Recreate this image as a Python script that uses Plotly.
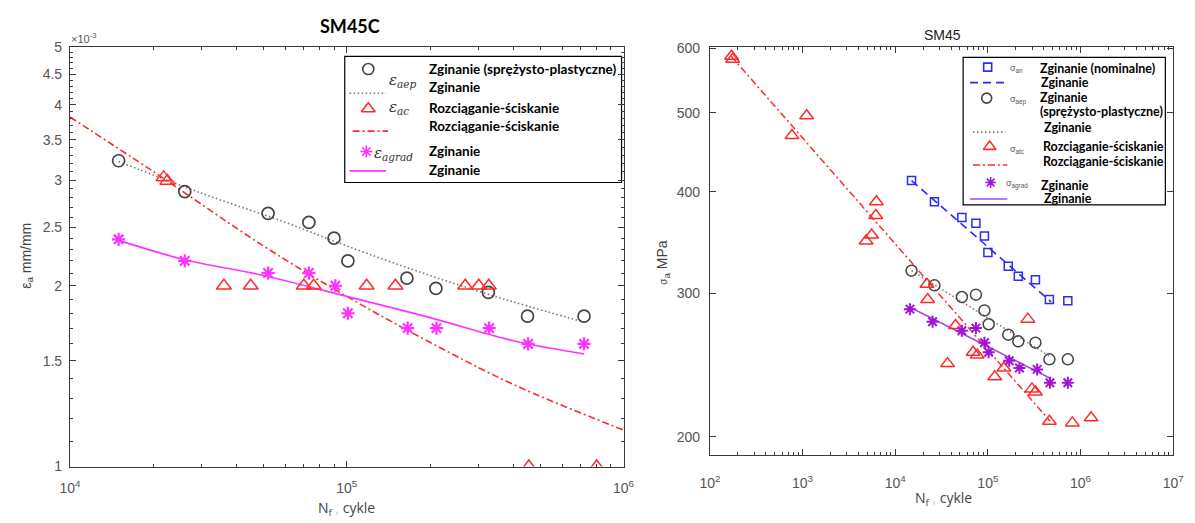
import numpy as np
import plotly.graph_objects as go

W, H = 1195, 523

# ---------------- SM45C : strain amplitude (x 1e-3 mm/mm) vs cycles ----------------
n_aep = [15000, 26000, 52000, 73000, 90000, 101000, 165000, 210000, 325000, 450000, 720000]
e_aep = [3.23, 2.87, 2.64, 2.55, 2.40, 2.20, 2.06, 1.98, 1.95, 1.78, 1.78]

n_ac = [21800, 22500, 36000, 45000, 70000, 76000, 118000, 150000, 268000, 300000, 326000, 455000, 800000]
e_ac = [3.03, 2.99, 2.0, 2.0, 2.0, 2.0, 2.0, 2.0, 2.0, 2.0, 2.0, 1.0, 1.0]

n_agrad = [15000, 26000, 52000, 73000, 91000, 101000, 166000, 211000, 327000, 452000, 720000]
e_agrad = [2.39, 2.20, 2.10, 2.10, 2.0, 1.80, 1.70, 1.70, 1.70, 1.60, 1.60]

fit_aep_n = [15000, 30000, 60000, 100000, 200000, 400000, 720000]
fit_aep_e = [3.22, 2.85, 2.55, 2.33, 2.08, 1.88, 1.74]
fit_ac_n = [10000, 20000, 50000, 100000, 200000, 400000, 1000000]
fit_ac_e = [3.82, 3.10, 2.33, 1.92, 1.61, 1.37, 1.15]
fit_agrad_n = [15000, 26000, 50000, 100000, 200000, 400000, 720000]
fit_agrad_e = [2.38, 2.21, 2.08, 1.92, 1.77, 1.62, 1.54]

left_yticks = [1, 1.5, 2, 2.5, 3, 3.5, 4, 4.5, 5]
left_xticks = [1e4, 1e5, 1e6]

# ---------------- SM45 : stress amplitude (MPa) vs cycles ----------------
n_an = [15000, 26500, 52400, 74300, 91800, 100000, 166000, 213000, 326000, 461000, 729000]
s_an = [413, 389, 372, 366, 353, 337, 324, 315, 312, 295, 294]

n_aep_r = [15000, 26500, 52400, 74300, 91800, 102000, 166000, 213000, 326000, 461000, 729000]
s_aep_r = [320, 307, 297, 299, 286, 275, 267, 262, 261, 249, 249]

n_atc = [171, 176, 769, 1107, 4850, 5560, 6170, 6260, 22000, 22400, 36700, 44700, 69300,
         76800, 118600, 149000, 270000, 299000, 326000, 461000, 815000, 1300000]
s_atc = [587, 582, 469, 496, 348, 354, 374, 389, 308, 295, 246, 274, 254, 252, 237, 243,
         279, 229, 227, 209, 208, 211]

n_agrad_r = [14400, 25300, 52400, 74300, 91800, 102000, 170000, 219000, 340000, 468000, 729000]
s_agrad_r = [287, 277, 270, 272, 261, 254, 248, 243, 242, 233, 233]

fit_an_n = [15000, 480000]
fit_an_s = [413, 293]
fit_aep_r_n = [15000, 470000]
fit_aep_r_s = [320, 251]
fit_atc_n = [170, 470000]
fit_atc_s = [587, 209]
fit_agrad_r_n = [15000, 470000]
fit_agrad_r_s = [288, 236]

right_yticks = [200, 300, 400, 500, 600]
right_xticks = [1e2, 1e3, 1e4, 1e5, 1e6, 1e7]

# ---------------- styles ----------------
GRAY_M = "#444444"
GRAY_L = "#777777"
RED = "#ff2a2a"
MAG = "#ff33ff"
BLUE = "#2a2aff"
PURP = "#a313d6"
PURP_L = "#a24ee0"
DOT = "1.5px,2.5px"
DASHDOT = "7px,3px,2px,3px"
DASH = "8px,5px"
AX = "#3a3a3a"
TICKC = "#555555"
TICKFONT = dict(family="Liberation Sans, Arial, sans-serif", size=14, color=TICKC)
LEGFONT = "Lato, 'Open Sans', sans-serif"


def px(x):
    return x / W


def py(y):
    return 1 - y / H


fig = go.Figure()

# ---- left panel traces ----
fig.add_trace(go.Scatter(x=fit_aep_n, y=fit_aep_e, mode="lines", line_shape="spline",
                         line=dict(color=GRAY_L, width=1.6, dash=DOT), xaxis="x", yaxis="y"))
fig.add_trace(go.Scatter(x=fit_ac_n, y=fit_ac_e, mode="lines", line_shape="spline",
                         line=dict(color=RED, width=1.6, dash=DASHDOT), xaxis="x", yaxis="y"))
fig.add_trace(go.Scatter(x=fit_agrad_n, y=fit_agrad_e, mode="lines", line_shape="spline",
                         line=dict(color=MAG, width=1.6), xaxis="x", yaxis="y"))
fig.add_trace(go.Scatter(x=n_aep, y=e_aep, mode="markers",
                         marker=dict(symbol="circle-open", size=12, color=GRAY_M, line=dict(width=1.7)),
                         xaxis="x", yaxis="y"))
fig.add_trace(go.Scatter(x=n_ac, y=e_ac, mode="markers",
                         marker=dict(symbol="triangle-up-open", size=13, color=RED, line=dict(width=1.5)),
                         xaxis="x", yaxis="y"))
fig.add_trace(go.Scatter(x=n_agrad, y=e_agrad, mode="markers",
                         marker=dict(symbol="asterisk-open", size=11, color=MAG, line=dict(width=2.2)),
                         xaxis="x", yaxis="y"))

# ---- right panel traces ----
fig.add_trace(go.Scatter(x=fit_an_n, y=fit_an_s, mode="lines",
                         line=dict(color=BLUE, width=1.6, dash=DASH), xaxis="x2", yaxis="y2"))
fig.add_trace(go.Scatter(x=fit_aep_r_n, y=fit_aep_r_s, mode="lines",
                         line=dict(color=GRAY_L, width=1.5, dash=DOT), xaxis="x2", yaxis="y2"))
fig.add_trace(go.Scatter(x=fit_atc_n, y=fit_atc_s, mode="lines",
                         line=dict(color=RED, width=1.5, dash=DASHDOT), xaxis="x2", yaxis="y2"))
fig.add_trace(go.Scatter(x=fit_agrad_r_n, y=fit_agrad_r_s, mode="lines",
                         line=dict(color=PURP_L, width=1.6), xaxis="x2", yaxis="y2"))
fig.add_trace(go.Scatter(x=n_an, y=s_an, mode="markers",
                         marker=dict(symbol="square-open", size=8, color=BLUE, line=dict(width=1.5)),
                         xaxis="x2", yaxis="y2"))
fig.add_trace(go.Scatter(x=n_aep_r, y=s_aep_r, mode="markers",
                         marker=dict(symbol="circle-open", size=11, color=GRAY_M, line=dict(width=1.5)),
                         xaxis="x2", yaxis="y2"))
fig.add_trace(go.Scatter(x=n_atc, y=s_atc, mode="markers",
                         marker=dict(symbol="triangle-up-open", size=12, color=RED, line=dict(width=1.5)),
                         xaxis="x2", yaxis="y2"))
fig.add_trace(go.Scatter(x=n_agrad_r, y=s_agrad_r, mode="markers",
                         marker=dict(symbol="asterisk-open", size=10, color=PURP, line=dict(width=2)),
                         xaxis="x2", yaxis="y2"))

# ---- legend glyph markers on a full-page helper axis (pixel units) ----
leg_marks = [
    (364, 63, "circle-open", 11, GRAY_M),
    (364, 104, "triangle-up-open", 12, RED),
    (362, 148, "asterisk-open", 10, MAG),
    (995, 61, "square-open", 8, BLUE),
    (994, 93, "circle-open", 10, GRAY_M),
    (997, 143, "triangle-up-open", 11, RED),
    (998, 180, "asterisk-open", 9, PURP),
]
for gx, gy, sym, sz, col in leg_marks:
    fig.add_trace(go.Scatter(x=[gx], y=[gy], mode="markers", xaxis="x3", yaxis="y3",
                             marker=dict(symbol=sym, size=sz, color=col, line=dict(width=1.6)),
                             cliponaxis=False))

minor_x_left = [k * 10 ** e for e in (4, 5) for k in range(2, 10)]
minor_y_left = [round(v, 1) for v in np.arange(1.1, 5.0, 0.1) if abs(v * 2 - round(v * 2)) > 1e-6]
minor_x_right = [k * 10 ** e for e in range(2, 7) for k in range(2, 10)]

common_axis = dict(showgrid=False, zeroline=False, showline=True, linecolor=AX, linewidth=1,
                   mirror="ticks", ticks="inside", tickcolor=AX, ticklen=6, tickfont=TICKFONT)

L_X0, L_X1, L_Y0, L_Y1 = 60, 624, 40, 473
R_X0, R_X1, R_Y0, R_Y1 = 712, 1184, 40, 461

fig.update_layout(
    width=W, height=H, margin=dict(l=0, r=0, t=0, b=0),
    paper_bgcolor="white", plot_bgcolor="rgba(0,0,0,0)", showlegend=False,
    xaxis=dict(common_axis, type="log", range=[4, 6], domain=[px(L_X0), px(L_X1)],
               tickvals=left_xticks, ticktext=["10<sup>4</sup>", "10<sup>5</sup>", "10<sup>6</sup>"],
               ticklabelstandoff=9,
               minor=dict(ticks="inside", ticklen=3, tickcolor=AX, tickvals=minor_x_left), anchor="y"),
    yaxis=dict(common_axis, type="log", range=[0, np.log10(5)], domain=[py(L_Y1), py(L_Y0)],
               tickvals=left_yticks, ticktext=[f"{v:g}" for v in left_yticks], ticklabelstandoff=4,
               minor=dict(ticks="inside", ticklen=3, tickcolor=AX, tickvals=minor_y_left), anchor="x"),
    xaxis2=dict(common_axis, type="log", range=[2, 7], domain=[px(R_X0), px(R_X1)],
                tickvals=right_xticks, ticktext=[f"10<sup>{k}</sup>" for k in range(2, 8)],
                ticklabelstandoff=15,
                minor=dict(ticks="inside", ticklen=3, tickcolor=AX, tickvals=minor_x_right), anchor="y2"),
    yaxis2=dict(common_axis, type="log", range=[np.log10(190), np.log10(603)],
                domain=[py(R_Y1), py(R_Y0)], tickvals=right_yticks, ticklabelstandoff=6,
                ticktext=[str(v) for v in right_yticks], anchor="x2"),
    xaxis3=dict(range=[0, W], domain=[0, 1], visible=False, fixedrange=True, anchor="y3"),
    yaxis3=dict(range=[H, 0], domain=[0, 1], visible=False, fixedrange=True, anchor="x3"),
)

shapes = []
annotations = []


def text(x, y, s, size=12, color="black", family=LEGFONT, xanchor="left", angle=0, bold=False):
    annotations.append(dict(x=px(x), y=py(y), xref="paper", yref="paper", text=f"<b>{s}</b>" if bold else s,
                            showarrow=False, xanchor=xanchor, yanchor="middle", textangle=angle,
                            borderpad=0, font=dict(family=family, size=size, color=color)))


def hline(x0, x1, y, color, dash, width=1.6):
    shapes.append(dict(type="line", xref="paper", yref="paper", x0=px(x0), x1=px(x1), y0=py(y), y1=py(y),
                       line=dict(color=color, width=width, dash=dash), layer="above"))


# ---- titles and axis labels ----
text(345, 19, "SM45C", size=18, family="Lato, 'Open Sans', sans-serif", xanchor="center", bold=True)
text(949, 28, "SM45", size=14, family="Liberation Sans, Arial, sans-serif", color="#222", xanchor="center")
text(60, 31, "×10<sup>-3</sup>", size=11, family="Liberation Sans, Arial, sans-serif", color=TICKC)
text(16, 256, "ε<sub>a</sub> mm/mm", size=14, family="Liberation Sans, Arial, sans-serif",
     color="#444", xanchor="center", angle=-90)
text(664, 262, "<span style='font-size:10px'>σ</span><sub>a</sub> MPa", size=14,
     family="Liberation Sans, Arial, sans-serif", color="#444", xanchor="center", angle=-90)
text(342, 516, "N<sub>f</sub> <span style='color:#cccccc'>,</span> cykle", size=14,
     family="'Open Sans', sans-serif", color="#444", xanchor="center")
text(950, 506, "N<sub>f</sub> <span style='color:#cccccc'>,</span> cykle", size=14,
     family="'Open Sans', sans-serif", color="#444", xanchor="center")

# ---- left legend ----
shapes.append(dict(type="rect", xref="paper", yref="paper", x0=px(340), x1=px(622), y0=py(180), y1=py(50),
                   line=dict(color="black", width=1.2), fillcolor="white", layer="below"))
hline(345, 382, 88, GRAY_L, DOT)
hline(348, 384, 127, RED, DASHDOT)
hline(345, 382, 168, MAG, None)
MATHF = "'DejaVu Serif', serif"
text(384, 75, "<i>ε<sub>aep</sub></i>", size=15, family=MATHF, color="#333")
text(384, 103, "<i>ε<sub>ac</sub></i>", size=15, family=MATHF, color="#333")
text(369, 150, "<i>ε<sub>agrad</sub></i>", size=15, family=MATHF, color="#333")
LS = 13.5
text(425, 63, "Zginanie (sprężysto-plastyczne)", size=LS, bold=True)
text(425, 82, "Zginanie", size=LS, bold=True)
text(425, 103, "Rozciąganie-ściskanie", size=LS, bold=True)
text(425, 122, "Rozciąganie-ściskanie", size=LS, bold=True)
text(425, 148, "Zginanie", size=LS, bold=True)
text(425, 167, "Zginanie", size=LS, bold=True)

# ---- right legend ----
shapes.append(dict(type="rect", xref="paper", yref="paper", x0=px(970), x1=px(1176), y0=py(203), y1=py(51),
                   line=dict(color="black", width=1.2), fillcolor="white", layer="below"))
hline(977, 1012, 77, BLUE, DASH)
hline(980, 1013, 128, GRAY_L, DOT)
hline(980, 1015, 162, RED, DASHDOT)
hline(977, 1015, 197, PURP_L, None)
SMALL = "Liberation Sans, Arial, sans-serif"
text(1017, 62, "σ<sub>an</sub>", size=9, family=SMALL, color="#555")
text(1017, 95, "σ<sub>aep</sub>", size=9, family=SMALL, color="#555")
text(1017, 146, "σ<sub>atc</sub>", size=9, family=SMALL, color="#555")
text(1013, 182, "σ<sub>agrad</sub>", size=9, family=SMALL, color="#555")
RS = 12.5
text(1047, 62, "Zginanie (nominalne)", size=RS, bold=True)
text(1048, 77, "Zginanie", size=RS, bold=True)
text(1047, 92, "Zginanie", size=RS, bold=True)
text(1047, 107, "(sprężysto-plastyczne)", size=RS, bold=True)
text(1051, 123, "Zginanie", size=RS, bold=True)
text(1050, 143, "Rozciąganie-ściskanie", size=RS, bold=True)
text(1050, 158, "Rozciąganie-ściskanie", size=RS, bold=True)
text(1048, 183, "Zginanie", size=RS, bold=True)
text(1051, 197, "Zginanie", size=RS, bold=True)

fig.update_layout(shapes=shapes, annotations=annotations)
fig.write_html("out.html")
